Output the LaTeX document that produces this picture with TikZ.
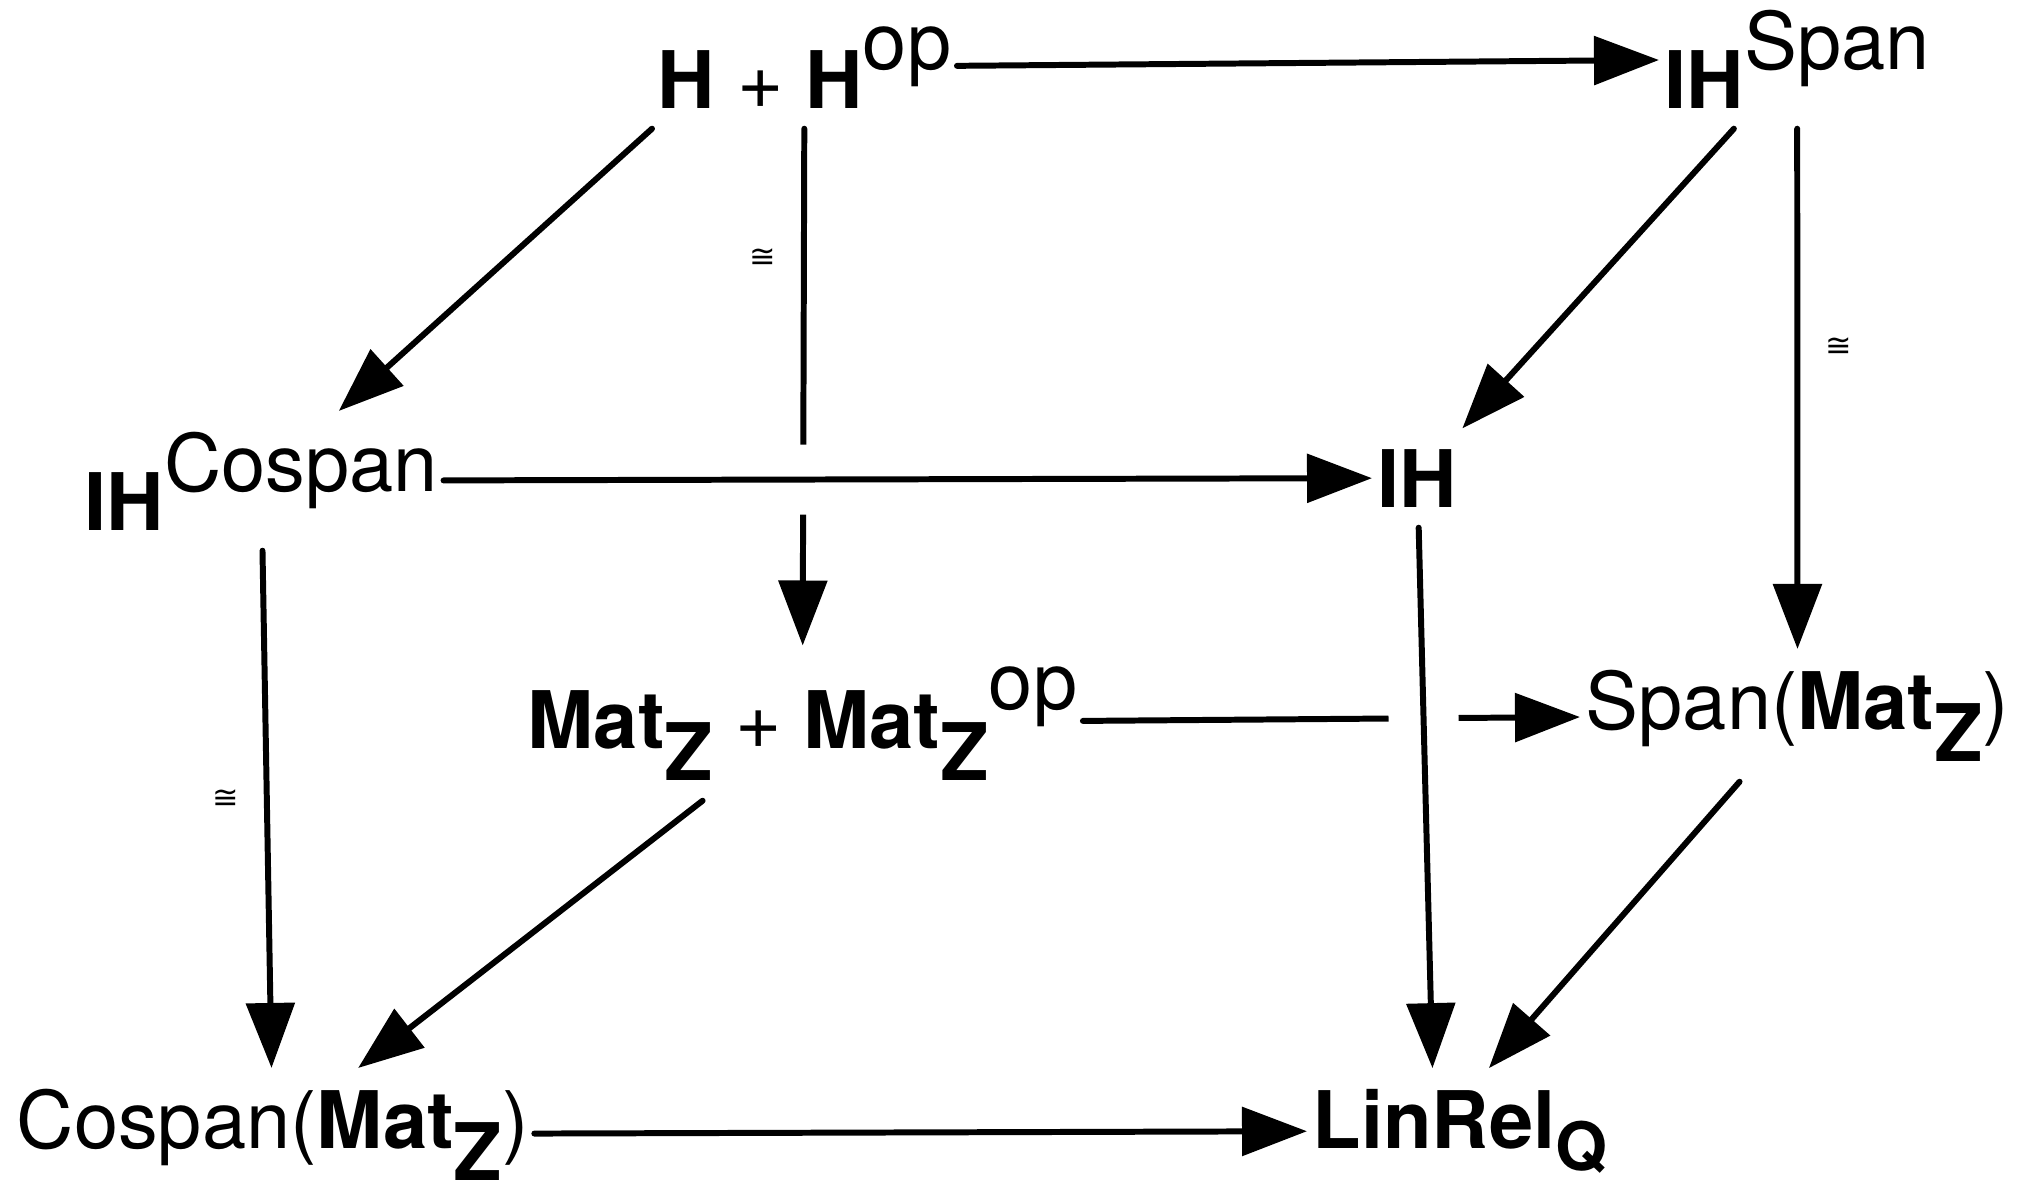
\documentclass[tikz,border=0pt]{standalone}
\usepackage{fontspec}
\setmainfont{TeX Gyre Heros}
\newfontfamily\isofont{DejaVu Sans}
\usetikzlibrary{arrows.meta}
\newcommand{\upop}[1]{\raisebox{3.9mm}{#1}}
\newcommand{\dnidx}[3]{\raisebox{-#1}{\fontsize{#2}{20}\selectfont\bfseries #3}}
\tikzset{
  obj/.style={anchor=base west,font=\fontsize{22.6}{26}\selectfont,inner xsep=0.5mm,inner ysep=2mm},
  arr/.style={-{Triangle[length=6.5mm,width=4.8mm]},line width=1.7pt,line cap=round},
  gap/.style={draw=white,line width=7mm},
  iso/.style={font=\isofont\fontsize{9}{10}\selectfont,inner sep=2.5mm}
}
\begin{document}
\begin{tikzpicture}
\useasboundingbox (0,0) rectangle (20.23,-11.80);
\node[obj] (hh) at (6.52,-1.08) {\textbf{H} + \textbf{H}\upop{op}};
\node[obj] (ihs) at (16.59,-1.08) {\textbf{IH}\upop{Span}};
\node[obj] (ihc) at (0.79,-5.30) {\textbf{IH}\upop{Cospan}};
\node[obj] (ih) at (13.72,-5.07) {\textbf{IH}};
\node[obj] (mm) at (5.22,-7.48) {\textbf{Mat}\dnidx{3.2mm}{22.6}{Z} + \textbf{Mat}\dnidx{3.2mm}{22.6}{Z}\upop{op}};
\node[obj] (sm) at (15.80,-7.29) {Span(\textbf{Mat}\dnidx{3.2mm}{22.6}{Z})};
\node[obj] (cm) at (0.11,-11.48) {Cospan(\textbf{Mat}\dnidx{3.2mm}{22.6}{Z})};
\node[obj] (lr) at (13.07,-11.48) {\textbf{LinRel}\rlap{\dnidx{2.2mm}{19}{Q}}};
\draw[arr] (hh) -- (ihs);
\draw[arr] (hh.south west) -- (ihc);
\draw[arr] (hh) -- node[iso,left,pos=.25]{≅} (mm);
\draw[arr] (ihs) -- (ih);
\draw[arr] (ihs) -- node[iso,right,pos=.42]{≅} (sm);
\draw[arr] (mm) -- (sm);
\draw[gap] (ihc) -- (ih);
\draw[arr] (ihc) -- (ih);
\draw[gap] (ih) -- (lr);
\draw[arr] (ih) -- (lr);
\draw[arr] (ihc) -- node[iso,left,pos=.48]{≅} (cm);
\draw[arr] (mm) -- (cm);
\draw[arr] (sm) -- (lr);
\draw[arr] (cm) -- (lr);
\end{tikzpicture}
\end{document}
